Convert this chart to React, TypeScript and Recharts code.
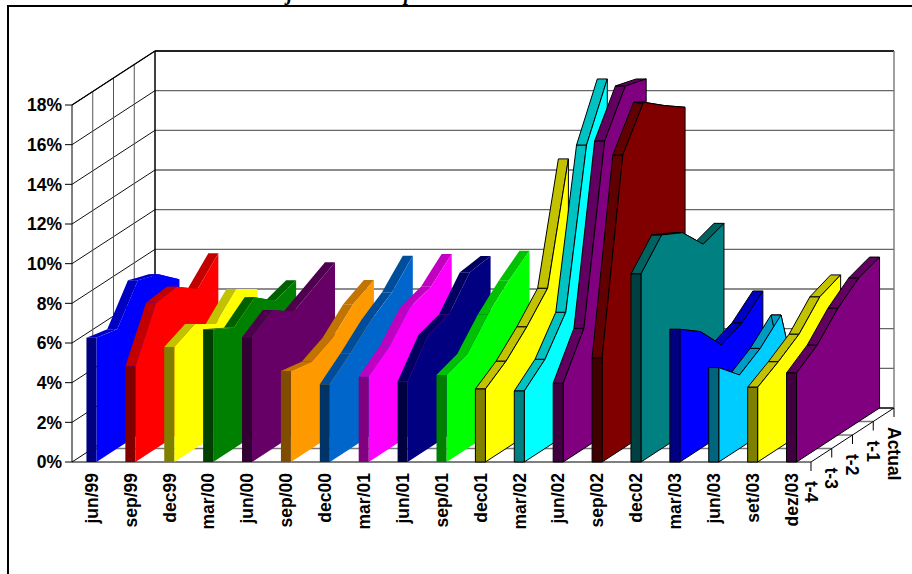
import React from "react";
import { ComposedChart, Area, Line, XAxis, YAxis } from "recharts";

// Quarter of each forecast ribbon, left to right.
const categories = [
  "jun/99", "sep/99", "dec99", "mar/00", "jun/00", "sep/00", "dec00", "mar/01", "jun/01", "sep/01",
  "dec01", "mar/02", "jun/02", "sep/02", "dec02", "mar/03", "jun/03", "set/03", "dez/03",
];
const depthLabels = ["t-4", "t-3", "t-2", "t-1", "Actual"];
const valueTicks = [0, 2, 4, 6, 8, 10, 12, 14, 16, 18];

// One array per forecast horizon, in percent.
const tMinus4 = [6.27, 4.81, 5.8, 6.69, 6.29, 4.59, 3.92, 4.3, 4.05, 4.39, 3.68, 3.58, 3.97, 5.24, 9.48, 6.69, 4.76, 3.77, 4.49];
const tMinus3 = [6.01, 7.35, 6.28, 6.09, 6.98, 4.38, 4.8, 5.13, 5.72, 4.77, 4.41, 4.5, 6.06, 14.8, 10.77, 5.89, 3.71, 4.38, 5.22];
const tMinus2 = [7.8, 7.48, 5.6, 6.94, 6.22, 4.89, 5.8, 6.44, 6.09, 6.09, 5.46, 6.19, 14.83, 16.78, 10.2, 4.54, 4.37, 5.09, 6.4];
const tMinus1 = [7.42, 6.68, 6.68, 6.09, 6.78, 5.91, 6.52, 6.8, 7.52, 7.1, 6.72, 13.94, 16.92, 15.93, 8.94, 4.98, 5.37, 6.29, 7.24];
const actual = [6.49, 7.8, 6.0, 6.44, 7.35, 6.45, 7.68, 7.77, 7.67, 7.93, 12.56, 16.59, 16.59, 15.16, 9.31, 5.9, 0, 6.71, 7.61];

const ribbonColors = [
  "#0000ff", "#ff0000", "#ffff00", "#008000", "#660066", "#ff9900", "#0066cc", "#ff00ff", "#000080", "#00ff00",
  "#ffff00", "#00ffff", "#800080", "#800000", "#008080", "#0000ff", "#00ccff", "#ffff00", "#800080",
];
const FIRST_OUTLINED = 10;

// Oblique projection, all in axis units: one depth step moves a point right and up.
const PLOT_WIDTH = 822;
const DEPTH_TOTAL_X = 2.134;
const DEPTH_TOTAL_Y = 2.723;
const DEPTH_STEPS = 4;
const STEP_X = DEPTH_TOTAL_X / DEPTH_STEPS;
const STEP_Y = DEPTH_TOTAL_Y / DEPTH_STEPS;
const RIBBON_WIDTH = 0.257;
const X_MAX = categories.length + DEPTH_TOTAL_X;
const Y_MAX = 18 + DEPTH_TOTAL_Y;
const PX_PER_STEP_Y = 13.5;

type Pt = { x: number; y: number };
const project = (pos: number, depth: number, value: number): Pt => ({
  x: pos + depth * STEP_X,
  y: value + depth * STEP_Y,
});

const shade = (hex: string, k: number) => {
  const n = parseInt(hex.slice(1), 16);
  const c = [(n >> 16) & 255, (n >> 8) & 255, n & 255].map((v) => Math.round(v * k));
  return `rgb(${c[0]},${c[1]},${c[2]})`;
};

// Converts a polygon that is monotone in x into the low/high pairs a range Area expects.
const toRange = (poly: Pt[]) => {
  const xs = Array.from(new Set(poly.map((p) => +p.x.toFixed(5)))).sort((a, b) => a - b);
  return xs.map((x) => {
    const ys: number[] = [];
    poly.forEach((a, i) => {
      const b = poly[(i + 1) % poly.length];
      const lo = Math.min(a.x, b.x) - 1e-4;
      const hi = Math.max(a.x, b.x) + 1e-4;
      if (x < lo || x > hi) return;
      if (Math.abs(a.x - b.x) < 1e-4) ys.push(a.y, b.y);
      else ys.push(a.y + ((x - a.x) / (b.x - a.x)) * (b.y - a.y));
    });
    return { x, range: [Math.min(...ys), Math.max(...ys)] };
  });
};

let layer = 1;
const nextLayer = () => layer++;

const polygon = (key: string, poly: Pt[], fill: string, outlined: boolean) => {
  const extra: any = { zIndex: nextLayer() };
  const parts = [
    <Area
      key={key}
      {...extra}
      data={toRange(poly)}
      dataKey="range"
      type="linear"
      fill={fill}
      fillOpacity={1}
      stroke="none"
      dot={false}
      activeDot={false}
      isAnimationActive={false}
    />,
  ];
  if (outlined) {
    const edge: any = { zIndex: nextLayer() };
    parts.push(
      <Line
        key={`${key}-edge`}
        {...edge}
        data={[...poly, poly[0]]}
        dataKey="y"
        type="linear"
        stroke="#000"
        strokeWidth={1}
        dot={false}
        activeDot={false}
        isAnimationActive={false}
      />
    );
  }
  return parts;
};

const rule = (key: string, from: Pt, to: Pt, stroke: string, width: number) => {
  const extra: any = { zIndex: nextLayer() };
  return (
    <Line
      key={key}
      {...extra}
      data={[from, to]}
      dataKey="y"
      type="linear"
      stroke={stroke}
      strokeWidth={width}
      dot={false}
      activeDot={false}
      isAnimationActive={false}
    />
  );
};

// Left wall, back wall and floor of the box.
const buildWalls = () => {
  const out: React.ReactNode[] = [];
  const n = categories.length;
  valueTicks.slice(1).forEach((v) => {
    out.push(rule(`side-${v}`, project(0, 0, v), project(0, DEPTH_STEPS, v), "#111", 1));
    out.push(rule(`back-${v}`, project(0, DEPTH_STEPS, v), project(n, DEPTH_STEPS, v), "#666", 1.4));
  });
  [1, 2, 3].forEach((d) => {
    out.push(rule(`wall-${d}`, project(0, d, 0), project(0, d, 18), "#555", 1));
    out.push(rule(`floor-${d}`, project(0, d, 0), project(n, d, 0), "#777", 1.4));
  });
  out.push(rule("back-0", project(0, DEPTH_STEPS, 0), project(n, DEPTH_STEPS, 0), "#000", 1.5));
  out.push(rule("back-top", project(0, DEPTH_STEPS, 18), project(n, DEPTH_STEPS, 18), "#000", 1.5));
  out.push(rule("back-left", project(0, DEPTH_STEPS, 0), project(0, DEPTH_STEPS, 18), "#000", 1.5));
  out.push(rule("back-right", project(n, DEPTH_STEPS, 0), project(n, DEPTH_STEPS, 18), "#777", 1.4));
  out.push(rule("front-left", project(0, 0, 0), project(0, 0, 18), "#000", 1));
  out.push(rule("floor-left", project(0, 0, 0), project(0, DEPTH_STEPS, 0), "#000", 1));
  out.push(rule("floor-right", project(n, 0, 0), project(n, DEPTH_STEPS, 0), "#000", 1));
  out.push(rule("floor-front", project(0, 0, 0), project(n, 0, 0), "#000", 1.2));
  out.push(rule("side-top", project(0, 0, 18), project(0, DEPTH_STEPS, 18), "#000", 1.2));
  return out;
};

// Each ribbon: sloped top strips first, then the side that hides any falling strip, then the front.
const buildRibbon = (i: number) => {
  const values = [tMinus4[i], tMinus3[i], tMinus2[i], tMinus1[i], actual[i]];
  const left = i + 0.5 - RIBBON_WIDTH / 2;
  const right = left + RIBBON_WIDTH;
  const color = ribbonColors[i];
  const outlined = i >= FIRST_OUTLINED;
  const out: React.ReactNode[] = [];
  for (let d = 0; d < DEPTH_STEPS; d++) {
    out.push(
      polygon(
        `top-${i}-${d}`,
        [
          project(left, d, values[d]),
          project(left, d + 1, values[d + 1]),
          project(right, d + 1, values[d + 1]),
          project(right, d, values[d]),
        ],
        shade(color, 0.76),
        outlined
      )
    );
  }
  const side = [
    ...values.map((v, d) => project(right, d, v)),
    project(right, DEPTH_STEPS, 0),
    project(right, 0, 0),
  ];
  out.push(polygon(`side-${i}`, side, color, outlined));
  out.push(
    polygon(
      `front-${i}`,
      [project(left, 0, 0), project(left, 0, values[0]), project(right, 0, values[0]), project(right, 0, 0)],
      shade(color, 0.5),
      outlined
    )
  );
  return out;
};

const n = categories.length;
const depthTicks = depthLabels.map((_, k) => n + k * STEP_X);
const xTicks = [...categories.map((_, i) => i + 0.5), ...depthTicks];

const labelStyle = { fontFamily: "Liberation Sans", fontWeight: 700, fontSize: 17.5, fill: "#000" };

// Rotated quarter names along the front edge, depth names with their tick marks along the floor edge.
const BottomTick = (props: any) => {
  const { x, y, payload } = props;
  const value: number = payload.value;
  const top = 462;
  if (value < n) {
    const name = categories[Math.floor(value)];
    return (
      <text transform={`translate(${x},${top + 11}) rotate(-90)`} textAnchor="end" dy="0.36em" {...labelStyle}>
        {name}
      </text>
    );
  }
  const k = Math.round((value - n) / STEP_X);
  const base = top - k * PX_PER_STEP_Y;
  return (
    <g>
      <line x1={x} x2={x} y1={base} y2={base + 9} stroke="#000" strokeWidth={1} />
      <text transform={`translate(${x},${base + 19}) rotate(90)`} textAnchor="start" dy="0.36em" {...labelStyle}>
        {depthLabels[k]}
      </text>
    </g>
  );
};

export default function App() {
  layer = 1;
  const walls = buildWalls();
  const ribbons = categories.map((_, i) => buildRibbon(i));
  return (
    <div style={{ position: "absolute", left: 0, top: 0, width: 912, height: 574, overflow: "hidden", background: "#fff" }}>
      <div
        style={{
          position: "absolute",
          left: 7,
          top: 5,
          width: 905,
          height: 569,
          borderTop: "2px solid #000",
          borderLeft: "2px solid #000",
        }}
      />
      <svg width={912} height={12} style={{ position: "absolute", left: 0, top: 0 }}>
        <text x={287} y={0} fontFamily="Liberation Serif" fontWeight={700} fontStyle="italic" fontSize={20}>
          j
        </text>
        <text x={404} y={0} fontFamily="Liberation Serif" fontWeight={700} fontStyle="italic" fontSize={20}>
          p
        </text>
      </svg>
      <div style={{ position: "absolute", left: 0, top: 0 }}>
        <ComposedChart width={912} height={574} margin={{ top: 51, right: 912 - 72 - PLOT_WIDTH, left: 0, bottom: 0 }}>
          <XAxis
            type="number"
            dataKey="x"
            domain={[0, X_MAX]}
            ticks={xTicks}
            interval={0}
            height={112}
            axisLine={false}
            tickLine={false}
            tick={<BottomTick />}
          />
          <YAxis
            type="number"
            domain={[0, Y_MAX]}
            ticks={valueTicks}
            interval={0}
            width={72}
            axisLine={false}
            tickSize={7}
            tickMargin={3}
            tickLine={{ stroke: "#000" }}
            tickFormatter={(v: number) => `${v}%`}
            tick={labelStyle}
          />
          {walls}
          {ribbons}
        </ComposedChart>
      </div>
    </div>
  );
}
